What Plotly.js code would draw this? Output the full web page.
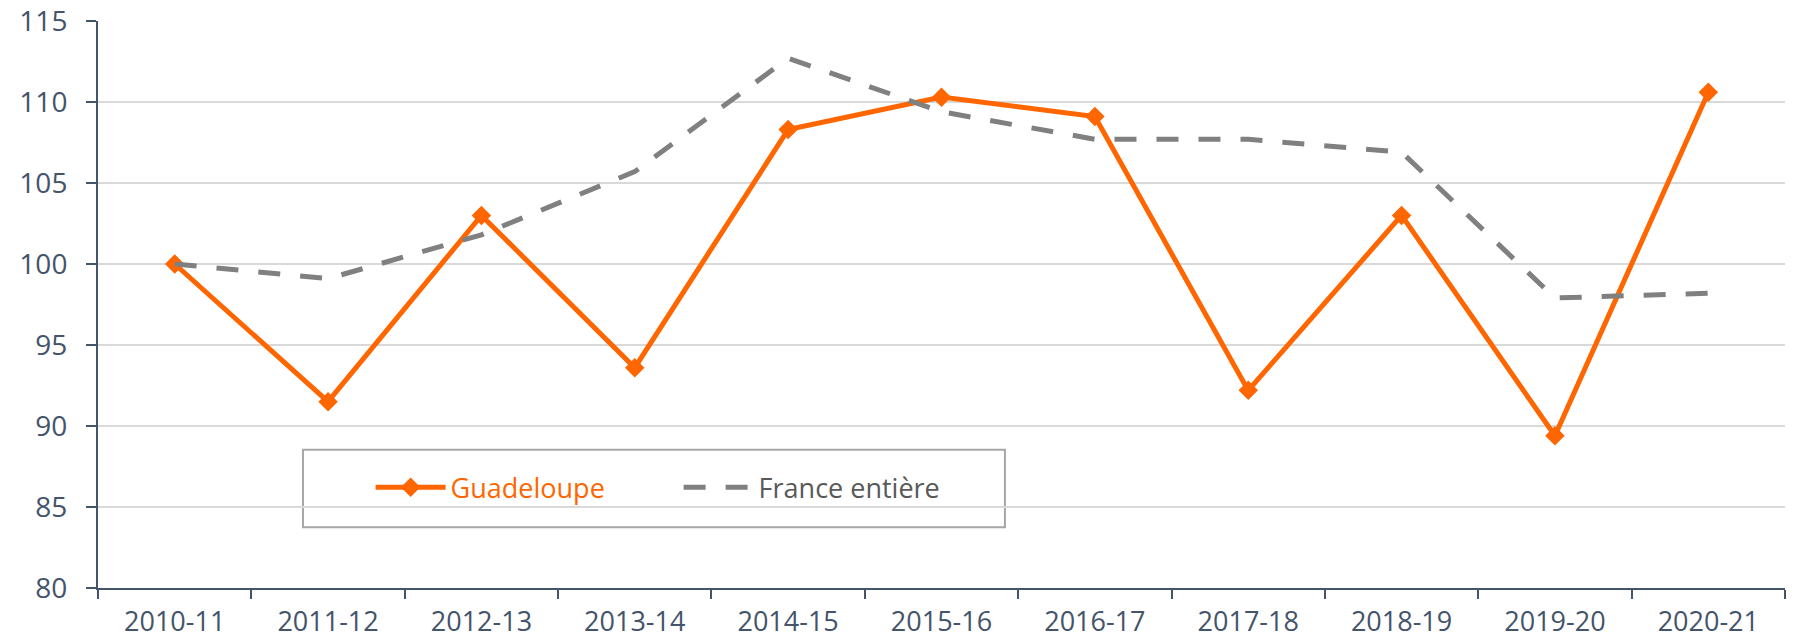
<!DOCTYPE html>
<html>
<head>
<meta charset="utf-8">
<script src="https://cdn.plot.ly/plotly-3.0.1.min.js"></script>
<style>
html,body{margin:0;padding:0;background:#fff;}
#chart{width:1799px;height:643px;}
</style>
</head>
<body>
<div id="chart"></div>
<script>
const categories = ["2010-11","2011-12","2012-13","2013-14","2014-15","2015-16","2016-17","2017-18","2018-19","2019-20","2020-21"];
const guadeloupe = [100, 91.5, 103.0, 93.6, 108.3, 110.3, 109.1, 92.2, 103.0, 89.4, 110.6];
const franceEntiere = [100, 99.1, 101.8, 105.7, 112.7, 109.4, 107.7, 107.7, 106.9, 97.9, 98.2];
const yTicks = [80, 85, 90, 95, 100, 105, 110, 115];

const axisColor = "#44546A";
const fontFamily = "'Open Sans', 'Noto Sans', sans-serif";

const traces = [
  {
    x: categories, y: guadeloupe, type: "scatter", mode: "lines+markers",
    name: '<span style="color:#FF6600">Guadeloupe</span>',
    line: {color: "#FF6600", width: 5},
    marker: {symbol: "diamond", size: 15, color: "#FF6600"},
    hoverinfo: "x+y"
  },
  {
    x: categories, y: franceEntiere, type: "scatter", mode: "lines",
    name: '<span style="color:#595959">France entière</span>',
    line: {color: "#808080", width: 5, dash: "22px,20px"},
    hoverinfo: "x+y"
  }
];

const layout = {
  width: 1799, height: 643,
  margin: {l: 98, r: 14, t: 21, b: 55},
  paper_bgcolor: "#ffffff", plot_bgcolor: "#ffffff",
  font: {family: fontFamily, size: 28, color: axisColor},
  showlegend: true,
  legend: {
    orientation: "h",
    x: 0.1616, xanchor: "left",
    y: 0.2203, yanchor: "top",
    bgcolor: "rgba(0,0,0,0)", borderwidth: 0,
    font: {family: fontFamily, size: 27, color: "#595959"},
    itemwidth: 70,
    entrywidth: 223, entrywidthmode: "pixels",
    traceorder: "normal"
  },
  shapes: [{
    type: "rect", xref: "paper", yref: "paper",
    x0: 0.1215, x1: 0.5376, y0: 0.107, y1: 0.244,
    line: {color: "#A6A6A6", width: 2},
    fillcolor: "#ffffff", layer: "between"
  }],
  xaxis: {
    type: "category",
    range: [-0.5, categories.length - 0.5],
    showgrid: false, zeroline: false,
    showline: true, linecolor: axisColor, linewidth: 2,
    ticks: "outside", tickson: "boundaries", ticklen: 9, tickwidth: 2, tickcolor: axisColor,
    tickfont: {family: fontFamily, size: 27, color: axisColor},
    ticklabelstandoff: 9,
    fixedrange: true
  },
  yaxis: {
    range: [80, 115],
    tickvals: yTicks,
    ticktext: yTicks.map(String),
    showgrid: true, gridcolor: "#D9D9D9", gridwidth: 2,
    zeroline: false,
    showline: true, linecolor: axisColor, linewidth: 2,
    ticks: "outside", ticklen: 10, tickwidth: 2, tickcolor: axisColor,
    tickfont: {family: fontFamily, size: 28, color: axisColor},
    ticklabelstandoff: 13,
    fixedrange: true
  }
};

Plotly.newPlot("chart", traces, layout, {displayModeBar: false, staticPlot: true});
</script>
</body>
</html>
